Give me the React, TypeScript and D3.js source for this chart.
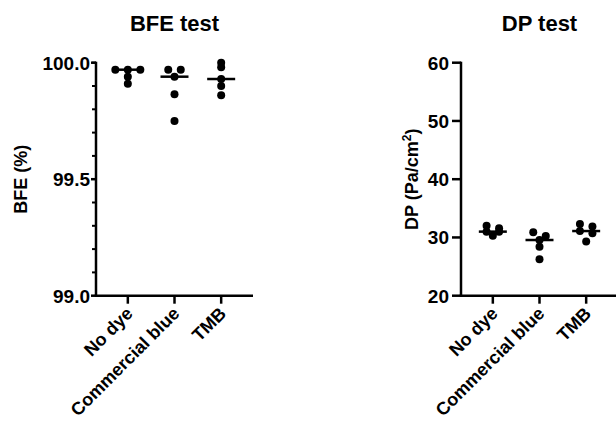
import React from "react";
import * as d3 from "d3";

const width = 616;
const height = 422;
const font = "'Liberation Sans', Arial, sans-serif";

const categories = ["No dye", "Commercial blue", "TMB"];

// BFE (%) per group
const bfeNoDye = [99.97, 99.97, 99.97, 99.94, 99.91];
const bfeCommercial = [99.97, 99.97, 99.94, 99.865, 99.75];
const bfeTmb = [100.0, 99.98, 99.93, 99.9, 99.86];

// DP (Pa/cm2) per group
const dpNoDye = [32.0, 31.6, 31.0, 31.0, 30.3];
const dpCommercial = [30.9, 30.25, 29.56, 28.4, 26.25];
const dpTmb = [32.3, 31.9, 31.1, 30.7, 29.3];

const bfeTicks = [99.0, 99.5, 100.0];
const dpTicks = [20, 30, 40, 50, 60];

const top = 62.7;
const bottom = 295.7;
const dotR = 4;
const dotStep = 12.5;
const medianHalf = 14;

// simple row swarm: values closer than 4px share a row and spread sideways
function swarm(values: number[], y: d3.ScaleLinear<number, number>) {
  const sorted = [...values].sort((a, b) => b - a);
  const rows: number[][] = [];
  sorted.forEach((v) => {
    const last = rows[rows.length - 1];
    if (last && Math.abs(y(last[0]) - y(v)) < 4) last.push(v);
    else rows.push([v]);
  });
  const out: { dx: number; v: number }[] = [];
  rows.forEach((row) => {
    row.forEach((v, i) => out.push({ dx: (i - (row.length - 1) / 2) * dotStep, v }));
  });
  return out;
}

type PanelProps = {
  axisX: number;
  axisEnd: number;
  title: string;
  groups: number[][];
  domain: [number, number];
  ticks: number[];
  minor: number[];
  tickFmt: (d: number) => string;
  tickLen: number;
  labelGap: number;
  labelX: number;
  label: React.ReactNode;
};

function Panel(p: PanelProps) {
  const x = d3
    .scalePoint<string>()
    .domain(categories)
    .range([p.axisX, p.axisX + 157])
    .padding(0.682);
  const y = d3.scaleLinear().domain(p.domain).range([bottom, top]);

  return (
    <g>
      <text
        x={x(categories[1])}
        y={31}
        textAnchor="middle"
        fontFamily={font}
        fontWeight="bold"
        fontSize={22}
      >
        {p.title}
      </text>
      <text
        transform={`translate(${p.labelX},${(top + bottom) / 2}) rotate(-90)`}
        textAnchor="middle"
        fontFamily={font}
        fontWeight="bold"
        fontSize={18}
      >
        {p.label}
      </text>

      {p.minor.map((t) => (
        <line
          key={"m" + t}
          x1={p.axisX - 4}
          x2={p.axisX}
          y1={y(t)}
          y2={y(t)}
          stroke="#000"
          strokeWidth={2}
        />
      ))}
      {p.ticks.map((t) => (
        <g key={t}>
          <line
            x1={p.axisX - p.tickLen}
            x2={p.axisX}
            y1={y(t)}
            y2={y(t)}
            stroke="#000"
            strokeWidth={2.5}
          />
          <text
            x={p.axisX - p.labelGap}
            y={y(t)}
            dy="0.36em"
            textAnchor="end"
            fontFamily={font}
            fontWeight="bold"
            fontSize={19}
          >
            {p.tickFmt(t)}
          </text>
        </g>
      ))}

      <line
        x1={p.axisX}
        x2={p.axisX}
        y1={top - 1}
        y2={bottom}
        stroke="#000"
        strokeWidth={2.5}
      />
      <line
        x1={p.axisX - 1.25}
        x2={p.axisEnd}
        y1={bottom}
        y2={bottom}
        stroke="#000"
        strokeWidth={2.5}
      />

      {categories.map((c, i) => {
        const cx = x(c) as number;
        const med = d3.median(p.groups[i]) as number;
        return (
          <g key={c}>
            <line
              x1={cx}
              x2={cx}
              y1={bottom}
              y2={bottom + 8}
              stroke="#000"
              strokeWidth={2.5}
            />
            <text
              transform={`translate(${cx + 6},${bottom + 19}) rotate(-45)`}
              textAnchor="end"
              fontFamily={font}
              fontWeight="bold"
              fontSize={18}
            >
              {c}
            </text>
            <line
              x1={cx - medianHalf}
              x2={cx + medianHalf}
              y1={y(med)}
              y2={y(med)}
              stroke="#000"
              strokeWidth={2.5}
            />
            {swarm(p.groups[i], y).map((d, j) => (
              <circle key={j} cx={cx + d.dx} cy={y(d.v)} r={dotR} fill="#000" />
            ))}
          </g>
        );
      })}
    </g>
  );
}

export default function App() {
  const bfeMinor = d3.range(99.1, 100, 0.1).filter((t) => Math.abs(t - 99.5) > 0.01);
  return (
    <div style={{ position: "fixed", left: 0, top: 0 }}>
      <svg width={width} height={height} style={{ display: "block", background: "#fff" }}>
        <Panel
          axisX={96}
          axisEnd={253}
          title="BFE test"
          groups={[bfeNoDye, bfeCommercial, bfeTmb]}
          domain={[99, 100]}
          ticks={bfeTicks}
          minor={bfeMinor}
          tickFmt={d3.format(".1f")}
          tickLen={5}
          labelGap={6}
          labelX={27}
          label="BFE (%)"
        />
        <Panel
          axisX={461}
          axisEnd={620}
          title="DP test"
          groups={[dpNoDye, dpCommercial, dpTmb]}
          domain={[20, 60]}
          ticks={dpTicks}
          minor={[]}
          tickFmt={d3.format("d")}
          tickLen={9}
          labelGap={12}
          labelX={418}
          label={
            <>
              DP (Pa/cm
              <tspan baselineShift="super" fontSize={12}>
                2
              </tspan>
              )
            </>
          }
        />
      </svg>
    </div>
  );
}
